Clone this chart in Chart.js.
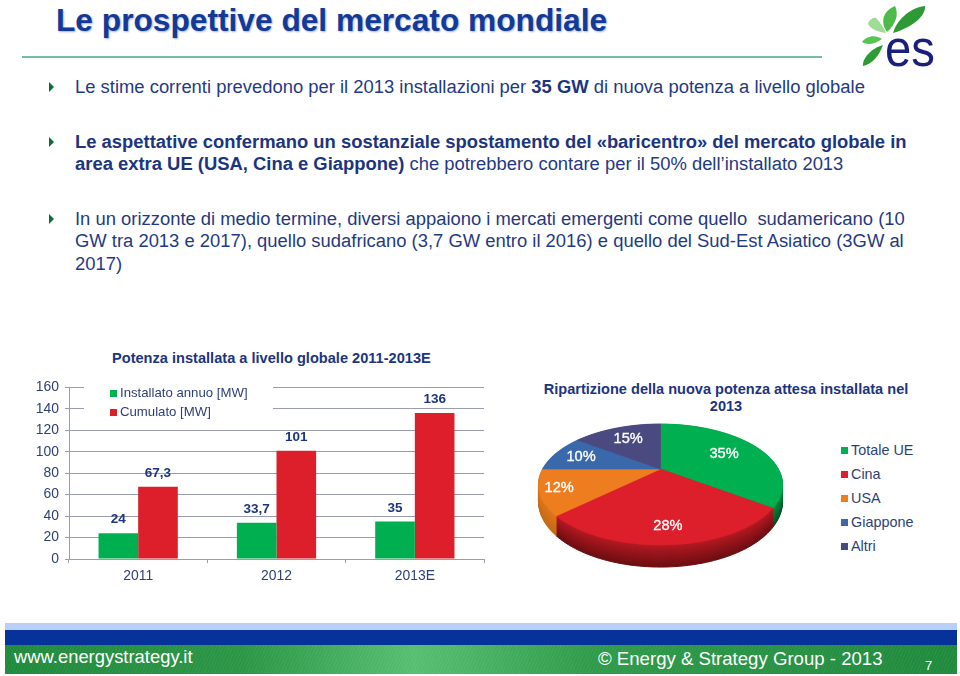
<!DOCTYPE html>
<html>
<head>
<meta charset="utf-8">
<script src="https://cdn.jsdelivr.net/npm/chart.js@4"></script>
<style>
  html, body { margin: 0; padding: 0; background: #fff; }
  body { width: 960px; height: 676px; overflow: hidden; position: relative; font-family: "Liberation Sans", Arial, sans-serif; color: #1f3a83; }
  .t { position: absolute; white-space: nowrap; }
  .line { font-size: 18.42px; line-height: 20px; left: 75px; }
  .hi { font-weight: bold; color: #1c3580; }
  .arrow { position: absolute; left: 49px; width: 0; height: 0; border-left: 5px solid #0f6b3c; border-top: 5px solid transparent; border-bottom: 5px solid transparent; }
  canvas { position: absolute; }
  .lg { position: absolute; white-space: nowrap; }
  .lg i { position: absolute; display: block; }
</style>
</head>
<body>

<div class="t" style="left:56px;top:3px;font-size:31.7px;font-weight:bold;line-height:34px;color:#123a96;text-shadow:1px 1px 2px #9fb0d8">Le prospettive del mercato mondiale</div>
<div style="position:absolute;left:22px;top:56px;width:800px;height:2px;background:#74bfa2"></div>

<svg style="position:absolute;left:780px;top:0" width="180" height="80" viewBox="0 0 180 80">
  <path d="M113 33 C116 22 128 8 145 6 C146 14 136 26 113 33 Z" fill="#2e9a36"/>
  <path d="M107 32 C101 24 101 12 115 6 C119 14 116 24 107 32 Z" fill="#4dbb4a"/>
  <path d="M106 33 C98 32 88 28 88 23 C90 19 94 17 96 18 C100 22 104 28 106 33 Z" fill="#9fdc96"/>
  <path d="M102 39 C94 45 86 45 82 42 C86 36 95 34 102 39 Z" fill="#55c652"/>
  <path d="M103 45 C99 56 92 64 83 66 C82 58 92 48 103 45 Z" fill="#2e9a36"/>
  <text x="105" y="66" font-family="Liberation Sans" font-size="52" fill="#1a1f7c" textLength="50" lengthAdjust="spacingAndGlyphs">es</text>
</svg>

<div class="arrow" style="top:82px"></div>
<div class="t line" style="top:77px">Le stime correnti prevedono per il 2013 installazioni per <span class="hi">35 GW</span> di nuova potenza a livello globale</div>

<div class="arrow" style="top:137px"></div>
<div class="t line hi" style="top:132px">Le aspettative confermano un sostanziale spostamento del «baricentro» del mercato globale in</div>
<div class="t line" style="top:154px"><span class="hi">area extra UE (USA, Cina e Giappone)</span> che potrebbero contare per il 50% dell’installato 2013</div>

<div class="arrow" style="top:214px"></div>
<div class="t line" style="top:209px">In un orizzonte di medio termine, diversi appaiono i mercati emergenti come quello&nbsp; sudamericano (10</div>
<div class="t line" style="top:231px">GW tra 2013 e 2017), quello sudafricano (3,7 GW entro il 2016) e quello del Sud-Est Asiatico (3GW al</div>
<div class="t line" style="top:254px">2017)</div>

<div class="t hi" style="left:112px;top:350px;font-size:14.6px;line-height:16px">Potenza installata a livello globale 2011-2013E</div>

<canvas id="barChart" style="left:30px;top:373px;width:460px;height:217px"></canvas>
<div id="barLegend" style="position:absolute;left:84px;top:384px;width:189px;height:26px;background:#fff"></div>

<div class="t hi" style="left:526px;width:400px;top:381px;text-align:center;font-size:14.55px;line-height:16.5px">Ripartizione della nuova potenza attesa installata nel<br>2013</div>

<canvas id="pieChart" style="left:520px;top:415px;width:281px;height:160px"></canvas>
<div id="pieLegend"></div>

<div style="position:absolute;left:5px;top:623px;width:952px;height:7px;background:#b9cff5"></div>
<div style="position:absolute;left:5px;top:630px;width:952px;height:15px;background:#06329a"></div>
<div style="position:absolute;left:5px;top:645px;width:952px;height:29px;background:repeating-linear-gradient(115deg,rgba(255,255,255,.05) 0 1px,rgba(255,255,255,0) 1px 3px),linear-gradient(90deg,#1f8a3c 0%,#2b9646 25%,#57bf72 43%,#2f9a4a 62%,#1f8a3c 100%)"></div>
<div class="t" style="left:14px;top:646px;font-size:18.4px;line-height:22px;color:#fff">www.energystrategy.it</div>
<div class="t" style="left:598px;top:648px;font-size:18.6px;line-height:22px;color:#fff">© Energy &amp; Strategy Group - 2013</div>
<div class="t" style="left:925px;top:658px;font-size:13px;line-height:16px;color:#fff">7</div>

<script>
const years = ['2011', '2012', '2013E']
const installato = [24, 33.7, 35]
const cumulato = [67.3, 101, 136]
const installatoLabels = ['24', '33,7', '35']
const cumulatoLabels = ['67,3', '101', '136']
const barColors = ['#00b050', '#dc1f2b']

const zone = ['Totale UE', 'Cina', 'USA', 'Giappone', 'Altri']
const quote = [35, 28, 12, 10, 15]
const zoneColors = ['#00b050', '#dc1f2b', '#ed7d1e', '#3a69ab', '#4a4a80']
const zoneWalls = ['#004f22', '#6b0e12', '#c46a16', '#2a4d80', '#33335c']

const tickColor = '#2e3f78'
const gridColor = '#9a9db2'

Chart.defaults.font.family = '"Liberation Sans", Arial, sans-serif'
Chart.defaults.animation = false

// etichette sopra le barre
const barValues = {
  id: 'barValues',
  afterDatasetsDraw(chart) {
    const ctx = chart.ctx
    ctx.save()
    ctx.font = 'bold 13.5px "Liberation Sans"'
    ctx.fillStyle = '#1c3580'
    ctx.textAlign = 'center'
    ctx.textBaseline = 'middle'
    chart.data.datasets.forEach((ds, i) => {
      chart.getDatasetMeta(i).data.forEach((bar, j) => {
        ctx.fillText(ds.valueLabels[j], bar.x, bar.y - 13.5)
      })
    })
    ctx.restore()
  }
}

new Chart(document.getElementById('barChart'), {
  type: 'bar',
  data: {
    labels: years,
    datasets: [
      { label: 'Installato annuo [MW]', data: installato, valueLabels: installatoLabels, backgroundColor: barColors[0] },
      { label: 'Cumulato [MW]', data: cumulato, valueLabels: cumulatoLabels, backgroundColor: barColors[1] }
    ]
  },
  options: {
    responsive: false,
    layout: { padding: { top: 11, right: 6, left: 0, bottom: 0 } },
    datasets: { bar: { barPercentage: 1, categoryPercentage: 0.573 } },
    plugins: { legend: { display: false }, tooltip: { enabled: false } },
    scales: {
      x: {
        afterFit: s => { s.height = 31 },
        grid: { drawOnChartArea: false, color: gridColor, tickLength: 4, offset: true },
        border: { color: gridColor },
        ticks: { color: tickColor, font: { size: 13.9 }, padding: 5, maxRotation: 0 }
      },
      y: {
        min: 0, max: 160,
        afterFit: s => { s.width = 39 },
        grid: { color: gridColor, tickLength: 4 },
        border: { color: gridColor },
        ticks: { stepSize: 20, color: tickColor, font: { size: 13.9 }, padding: 6 }
      }
    }
  },
  plugins: [barValues]
})

// torta in prospettiva: angoli e raggio vengono dagli archi di Chart.js
const persp = 0.256
const stretchX = 2.185
const stretchY = 1.048
function project(arc, a, f) {
  const u = f * Math.cos(a), v = f * Math.sin(a), w = 1 - persp * v
  return { x: arc.x + arc.outerRadius * stretchX * u / w, y: arc.y + arc.outerRadius * stretchY * v / w, v: v }
}
function slicePath(ctx, arc, lift) {
  const steps = 60
  ctx.beginPath()
  const c = project(arc, 0, 0)
  ctx.moveTo(c.x, c.y + lift * (15 + 7 * c.v))
  for (let i = 0; i <= steps; i++) {
    const p = project(arc, arc.startAngle + (arc.endAngle - arc.startAngle) * i / steps, 1)
    ctx.lineTo(p.x, p.y + lift * (15 + 7 * p.v))
  }
  ctx.closePath()
}
function mix(c1, c2, t) {
  const n = c => [1, 3, 5].map(i => parseInt(c.substr(i, 2), 16))
  const a = n(c1), b = n(c2)
  return 'rgb(' + a.map((x, i) => Math.round(x + (b[i] - x) * t)).join(',') + ')'
}
const tiltedPie = {
  id: 'tiltedPie',
  beforeDatasetsDraw(chart, args, opts) {
    const ctx = chart.ctx
    const arcs = chart.getDatasetMeta(0).data
    const layers = 22
    ctx.save()
    for (let l = layers; l >= 1; l--) {
      arcs.forEach((arc, i) => {
        const col = mix(zoneColors[i], zoneWalls[i], 0.35 + 0.65 * l / layers)
        ctx.fillStyle = col
        ctx.strokeStyle = col
        slicePath(ctx, arc, l / layers)
        ctx.fill()
        ctx.stroke()
      })
    }
    arcs.forEach((arc, i) => {
      ctx.fillStyle = zoneColors[i]
      ctx.strokeStyle = zoneColors[i]
      ctx.lineWidth = 0.6
      slicePath(ctx, arc, 0)
      ctx.fill()
      ctx.stroke()
    })
    ctx.font = '14.6px "Liberation Sans"'
    ctx.fillStyle = '#fff'
    ctx.strokeStyle = '#fff'
    ctx.lineWidth = 0.35
    ctx.textAlign = 'center'
    ctx.textBaseline = 'middle'
    arcs.forEach((arc, i) => {
      const p = project(arc, (arc.startAngle + arc.endAngle) / 2, opts.labelRadius[i])
      ctx.fillText(quote[i] + '%', p.x, p.y)
      ctx.strokeText(quote[i] + '%', p.x, p.y)
    })
    ctx.restore()
    return false
  }
}

new Chart(document.getElementById('pieChart'), {
  type: 'pie',
  data: { labels: zone, datasets: [{ data: quote, backgroundColor: zoneColors, borderWidth: 0 }] },
  options: {
    responsive: false,
    layout: { padding: { bottom: 52 } },
    plugins: {
      legend: { display: false },
      tooltip: { enabled: false },
      tiltedPie: { labelRadius: [0.65, 0.8, 0.85, 0.75, 0.7] }
    }
  },
  plugins: [tiltedPie]
})

// legende
const barLegend = document.getElementById('barLegend')
;['Installato annuo [MW]', 'Cumulato [MW]'].forEach((name, i) => {
  const row = document.createElement('div')
  row.className = 'lg'
  row.style.cssText = 'left:36px;top:' + (1 + i * 18.5) + 'px;font-size:13.2px;line-height:16px;color:#2e3f78'
  row.innerHTML = '<i style="left:-10px;top:5px;width:7px;height:7px;background:' + barColors[i] + '"></i>' + name
  barLegend.appendChild(row)
})
const pieLegend = document.getElementById('pieLegend')
zone.forEach((name, i) => {
  const row = document.createElement('div')
  row.className = 'lg'
  row.style.cssText = 'left:851px;top:' + (441 + i * 24) + 'px;font-size:14.4px;line-height:18px;color:#2e3f78'
  row.innerHTML = '<i style="left:-10px;top:6px;width:7px;height:7px;background:' + zoneColors[i] + '"></i>' + name
  pieLegend.appendChild(row)
})
</script>
</body>
</html>
